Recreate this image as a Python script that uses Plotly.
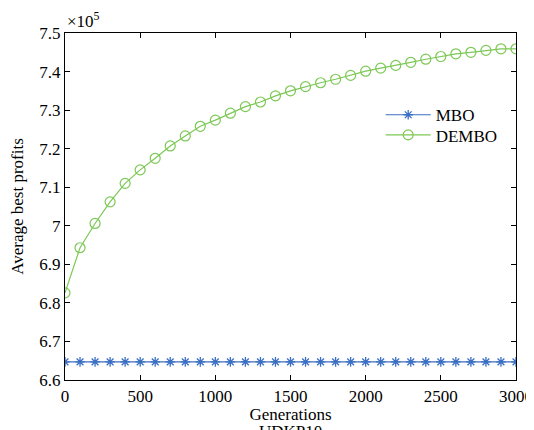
import plotly.graph_objects as go

generations = list(range(0, 3001, 100))
mbo = [6.647] * 31
dembo = [6.826, 6.943, 7.006, 7.062, 7.110, 7.145, 7.175, 7.207, 7.233, 7.258,
         7.274, 7.292, 7.309, 7.321, 7.337, 7.350, 7.361, 7.371, 7.380, 7.390,
         7.401, 7.409, 7.416, 7.424, 7.432, 7.439, 7.446, 7.450, 7.455, 7.459, 7.459]
y_ticks = [6.6, 6.7, 6.8, 6.9, 7.0, 7.1, 7.2, 7.3, 7.4, 7.5]
y_tick_text = ["6.6", "6.7", "6.8", "6.9", "7", "7.1", "7.2", "7.3", "7.4", "7.5"]
x_ticks = [0, 500, 1000, 1500, 2000, 2500, 3000]

FONT = "Liberation Serif, Times New Roman, serif"

fig = go.Figure()
fig.add_trace(go.Scatter(
    x=generations, y=mbo, name="MBO", mode="lines+markers", legend="legend",
    line=dict(color="#3a6fc4", width=1.2),
    marker=dict(symbol="asterisk", size=8, color="#3a6fc4",
                line=dict(color="#3a6fc4", width=1.3)),
))
fig.add_trace(go.Scatter(
    x=generations, y=dembo, name="DEMBO", mode="lines+markers", legend="legend2",
    line=dict(color="#7cc855", width=1.2),
    marker=dict(symbol="circle-open", size=10, color="#7cc855",
                line=dict(color="#7cc855", width=1.2)),
))

axis_common = dict(
    showgrid=False, zeroline=False, showline=True, linecolor="black", linewidth=1.2,
    mirror="allticks", ticks="inside", ticklen=5, tickcolor="black",
    tickfont=dict(family=FONT, size=17, color="black"), automargin=False,
)

legend_common = dict(x=0.70, xanchor="left", yanchor="top",
                     bgcolor="rgba(0,0,0,0)", borderwidth=0,
                     font=dict(family=FONT, size=17, color="black"),
                     itemwidth=45)

fig.update_layout(
    width=526, height=422,
    margin=dict(l=57, r=18, t=25, b=50),
    paper_bgcolor="white", plot_bgcolor="white",
    font=dict(family=FONT, size=17, color="black"),
    showlegend=True,
    legend=dict(y=0.815, **legend_common),
    legend2=dict(y=0.757, **legend_common),
    xaxis=dict(range=[0, 3000], tickvals=x_ticks,
               title=dict(text="Generations", standoff=0,
                          font=dict(family=FONT, size=17)),
               **axis_common),
    yaxis=dict(range=[6.6, 7.5], tickvals=y_ticks, ticktext=y_tick_text,
               title=dict(text="Average best profits", standoff=14,
                          font=dict(family=FONT, size=17)),
               **axis_common),
    annotations=[
        dict(text="×10<sup>5</sup>", xref="paper", yref="paper", x=0.0, y=1.0,
             xanchor="left", yanchor="bottom", showarrow=False,
             font=dict(family=FONT, size=17, color="black")),
        dict(text="UDKP10", xref="paper", yref="paper", x=0.5, y=-0.115,
             xanchor="center", yanchor="top", showarrow=False,
             font=dict(family=FONT, size=17, color="black")),
    ],
)

fig.write_html("out.html")
